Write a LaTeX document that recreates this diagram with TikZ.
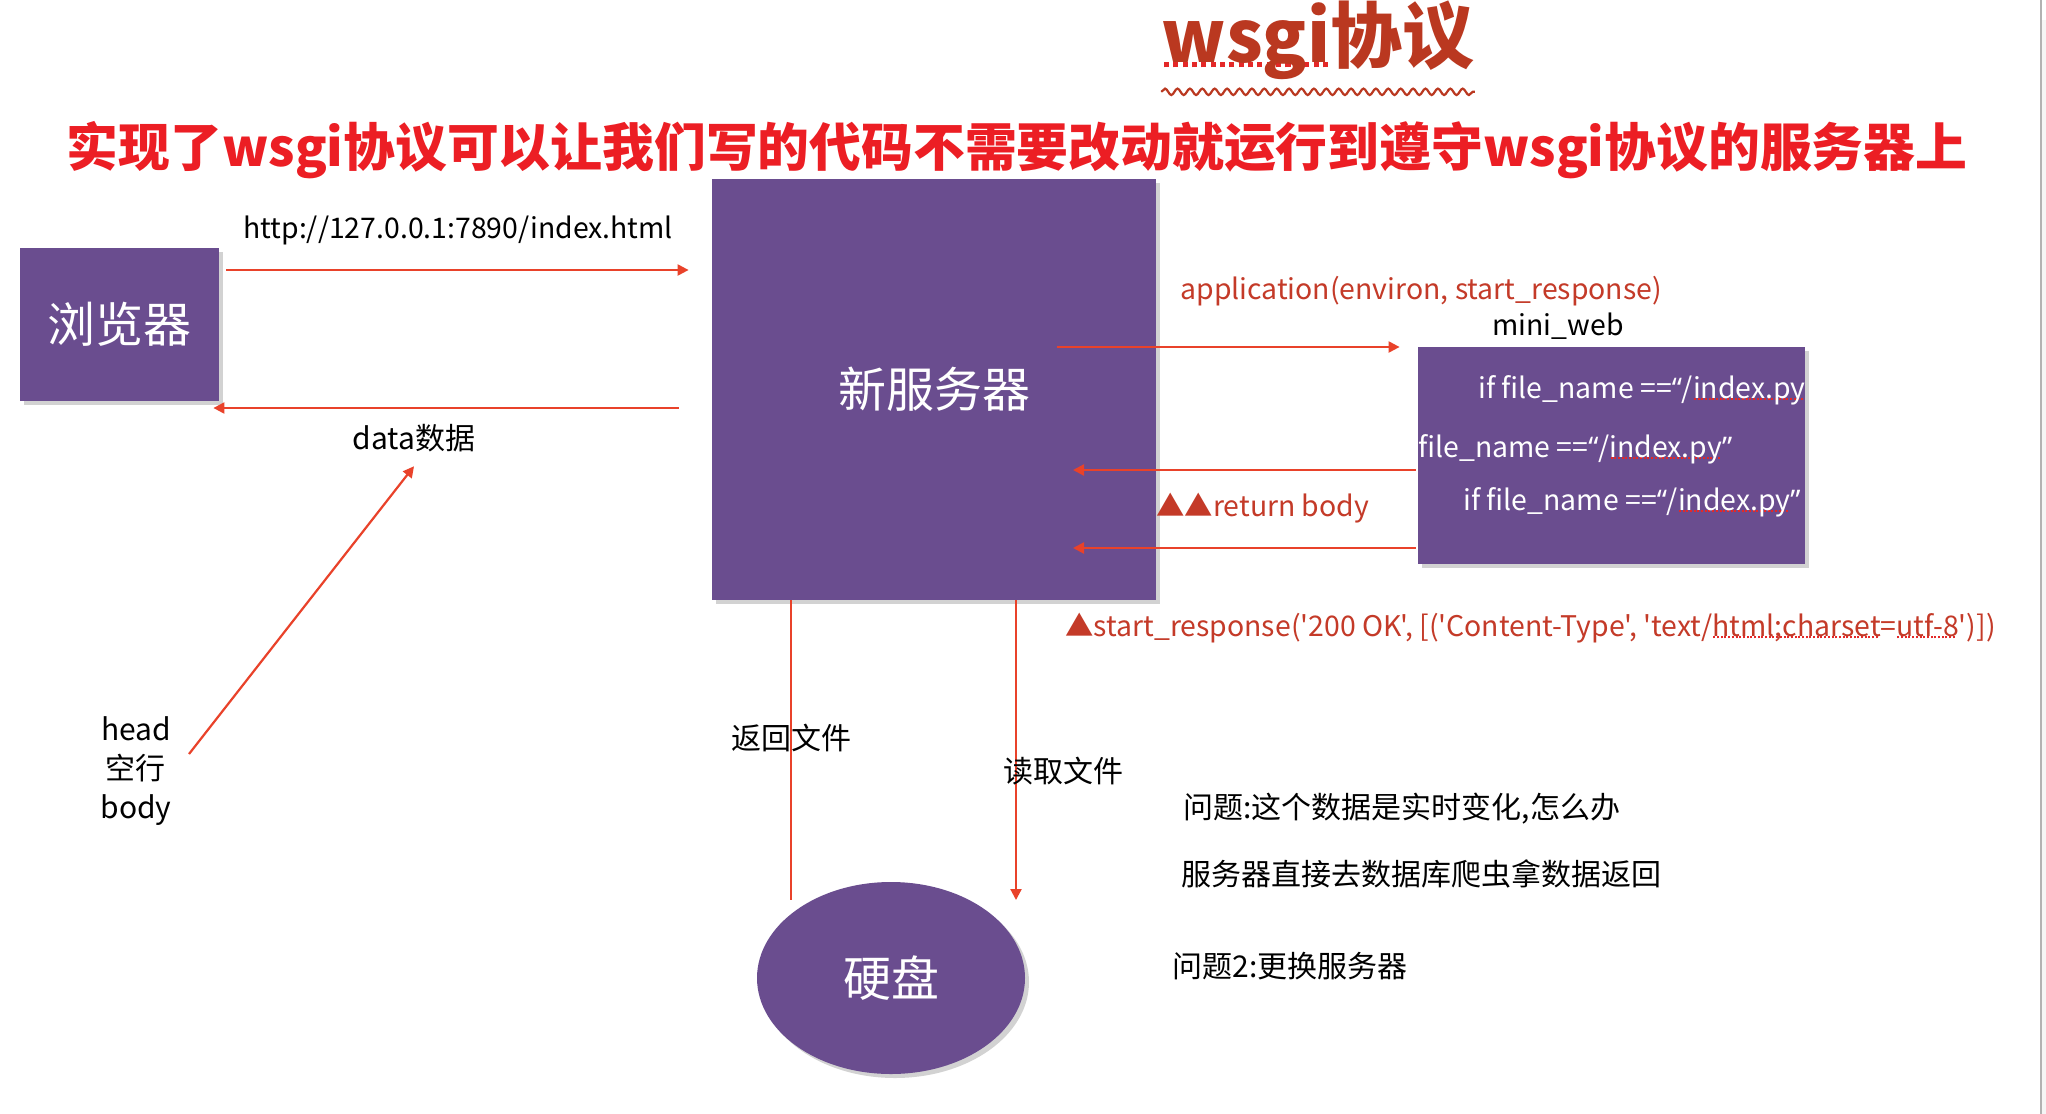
\documentclass[tikz,border=0pt]{standalone}
\usepackage{fontspec}
\newfontfamily\nf{Noto Sans CJK SC}
\newfontfamily\lf{Noto Sans}
\usetikzlibrary{arrows.meta,shapes.geometric,shadows,decorations.pathmorphing}
\definecolor{boxpurple}{RGB}{106,77,143}
\definecolor{arrred}{RGB}{233,66,42}
\definecolor{lblred}{RGB}{196,58,40}
\definecolor{titred}{RGB}{186,56,32}
\definecolor{subred}{RGB}{236,30,36}
\definecolor{ulred}{RGB}{228,40,40}
\newcommand\dotul[1]{\setbox0=\hbox{#1}\rlap{\raisebox{-0.07em}{\textcolor{ulred}{\hbox to \wd0{\leaders\hbox to 0.13em{\hss\vrule width 0.07em height 0.07em\hss}\hfill}}}}\box0}
\newcommand\myopq{{\lf “}}
\newcommand\myclq{{\lf ”}}
\begin{document}
\begin{tikzpicture}[x=0.5pt,y=-0.5pt,
  box/.style={fill=boxpurple, draw=none, text=white, inner sep=0pt,
    font=\nf\fontsize{24}{28}\selectfont,
    drop shadow={shadow xshift=2pt,shadow yshift=-2pt,opacity=0.35}},
  txt/.style={inner sep=0pt, font=\nf\fontsize{15}{19.5}\selectfont},
  lat/.style={inner sep=0pt, font=\nf\fontsize{14.2}{18}\selectfont},
  arr/.style={draw=arrred, line width=1.1pt, -{Triangle[length=5.5pt,width=5.5pt]}},
  ln/.style={draw=arrred, line width=1.1pt}]
\useasboundingbox (0,0) rectangle (2046,1114);
\fill[white] (0,0) rectangle (2046,1114);
% right edge
\fill[gray!8] (2042,20) rectangle (2046,1114);
\draw[gray!60, line width=1pt] (2041,0) -- (2041,1114);

% title
\node[inner sep=0pt, font=\nf\bfseries\fontsize{36}{40}\selectfont, text=titred] (title) at (1318,40) {\dotul{wsgi}协议};
\draw[titred, line width=1.1pt, decorate, decoration={snake, amplitude=1.6pt, segment length=6.2pt}]
  ([yshift=-6pt]title.south west) -- ([yshift=-6pt]title.south east);
\node[inner sep=0pt, font=\nf\bfseries\fontsize{25.9}{30}\selectfont, text=subred] (sub) at (1017,150)
  {实现了wsgi协议可以让我们写的代码不需要改动就运行到遵守wsgi协议的服务器上};

% boxes
\node[box, minimum width=99.5pt, minimum height=76.5pt] (browser) at (119.5,324.5) {浏览器};
\node[box, minimum width=222pt, minimum height=210.5pt] (server) at (934,389.5) {新服务器};
\node[box, minimum width=193.5pt, minimum height=108.5pt] (miniweb) at (1611.5,455.5) {};
\node[box, ellipse, minimum width=134pt, minimum height=96pt] (disk) at (891,978) {硬盘};

% labels
\node[lat] (url) at (458,230) {http://127.0.0.1:7890/index.html};
\node[txt] (data) at (414,438) {data数据};
\node[txt, align=center] (hb) at (136,771) {head\\空行\\body};
\node[lat, text=lblred, anchor=west] (app) at (1180,291) {application(environ, start\_response)};
\node[lat] (mwtitle) at (1558,326) {mini\_web};
\node[lat, text=white, anchor=west] (l1) at (1478,390) {if file\_name ==\myopq/\dotul{index.py}};
\node[lat, text=white, anchor=west] (l2) at (1418,449) {file\_name ==\myopq/\dotul{index.py}\myclq};
\node[lat, text=white, anchor=west] (l3) at (1463,502) {if file\_name ==\myopq/\dotul{index.py}\myclq};
\node[lat, text=lblred, anchor=west] (ret) at (1156,508) {▲▲return body};
\node[lat, text=lblred, anchor=west] (sr) at (1065,628) {▲start\_response('200 OK', [('Content-Type', 'text/\dotul{html;charset}=\dotul{utf-8}')])};
\node[txt, anchor=west] (q1) at (1183,809) {问题:这个数据是实时变化,怎么办};
\node[txt, anchor=west] (q2) at (1181,874) {服务器直接去数据库爬虫拿数据返回};
\node[txt, anchor=west] (q3) at (1172,966) {问题2:更换服务器};

% connectors
\draw[arr] ([shift={(7,-54.5)}]browser.east) -- ([shift={(-23,-119.5)}]server.west);
\draw[arr] ([shift={(-33,18.5)}]server.west) -- ([shift={(-6,83.5)}]browser.east);
\draw[arr] ([shift={(53,-17)}]hb.center) -- ([yshift=-7pt]data.south);
\draw[arr] ([shift={(123,-42.5)}]server.center) -- ([shift={(-18,-108.5)}]miniweb.west);
\draw[arr] ([shift={(-2,14.5)}]miniweb.west) -- ([shift={(139,80.5)}]server.center);
\draw[arr] ([shift={(-2,92.5)}]miniweb.west) -- ([shift={(139,158.5)}]server.center);
\draw[ln] ([xshift=-71.5pt]server.south) -- ([shift={(-100,-78)}]disk.center);
\draw[arr] ([xshift=41pt]server.south) -- ([shift={(125,-78)}]disk.center);

% labels on top of vertical lines
\node[txt] (fanhui) at (791,738) {返回文件};
\node[txt] (duqu) at (1063,771) {读取文件};
\end{tikzpicture}
\end{document}
